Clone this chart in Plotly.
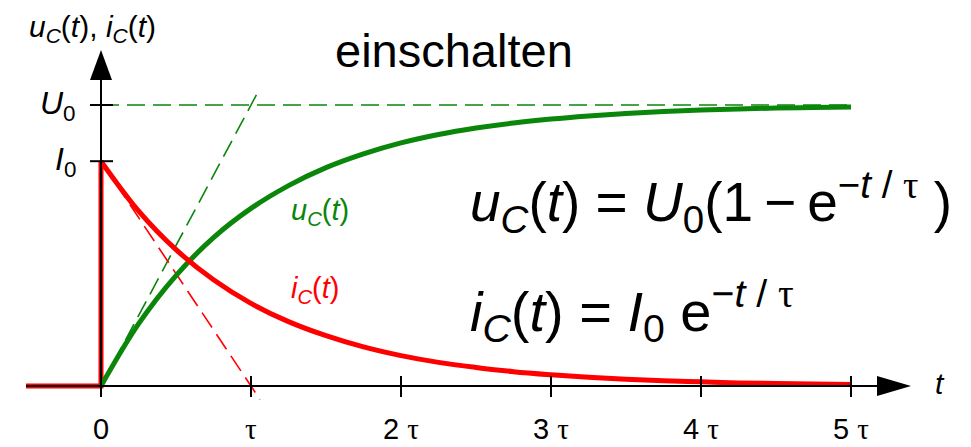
import plotly.graph_objects as go

# Time axis in units of tau, sampled every tau/4
t_vals = [0, 0.25, 0.5, 0.75, 1.0, 1.25, 1.5, 1.75, 2.0, 2.25, 2.5,
          2.75, 3.0, 3.25, 3.5, 3.75, 4.0, 4.25, 4.5, 4.75, 5.0]
# Capacitor voltage (in units of U0)
u_vals = [0.0, 0.221, 0.393, 0.528, 0.632, 0.713, 0.777, 0.826, 0.865, 0.895, 0.918,
          0.936, 0.950, 0.961, 0.970, 0.977, 0.982, 0.986, 0.989, 0.991, 0.993]
# Capacitor current (same vertical scale, I0 = 0.8)
i_vals = [0.8, 0.623, 0.485, 0.378, 0.294, 0.229, 0.179, 0.139, 0.108, 0.084, 0.066,
          0.051, 0.040, 0.031, 0.024, 0.019, 0.015, 0.011, 0.009, 0.007, 0.005]
# Current before switching on
t_off = [-0.5, 0, 0]
i_off = [0, 0, 0.8]

U0 = 1.0
I0 = 0.8
tangent_t = [0, 1.06]
u_tangent = [0, 1.06]
i_tangent = [0.8, -0.048]

x_ticks = [0, 1, 2, 3, 4, 5]
x_tick_labels = ["0", "τ", "2 τ", "3 τ", "4 τ", "5 τ"]
y_ticks = [U0, I0]
y_tick_labels = ["<i>U</i><sub>0</sub>", "<i>I</i><sub>0</sub>"]

W, H = 971, 447
X0PX, PX_PER_T = 101, 150
Y0PX, PX_PER_V = 386, 281


def tx(px):
    return (px - X0PX) / PX_PER_T


def vy(py):
    return (Y0PX - py) / PX_PER_V


GREEN = "#0a860a"
RED = "#ff0000"
FONT = "Liberation Sans, Arial, sans-serif"
TAU = '<span style="font-family:Liberation Serif">τ</span>'
THIN = "\u2009"

fig = go.Figure()

# dashed helper lines
fig.add_trace(go.Scatter(x=[0, 5], y=[U0, U0], mode="lines",
                         line=dict(color=GREEN, width=1.6, dash="18px,8px"), hoverinfo="skip"))
fig.add_trace(go.Scatter(x=tangent_t, y=u_tangent, mode="lines",
                         line=dict(color=GREEN, width=1.6, dash="18px,8px"), hoverinfo="skip"))
fig.add_trace(go.Scatter(x=tangent_t, y=i_tangent, mode="lines",
                         line=dict(color=RED, width=1.6, dash="18px,8px"), hoverinfo="skip"))

shapes = []
ax_style = dict(color="black", width=2)
# x axis with arrow
shapes.append(dict(type="line", x0=-0.5, y0=0, x1=tx(880), y1=0, line=ax_style))
shapes.append(dict(type="path",
                   path=f"M {tx(877)},{vy(Y0PX-10)} L {tx(911)},0 L {tx(877)},{vy(Y0PX+10)} Z",
                   fillcolor="black", line=dict(width=0)))
# y axis with arrow
shapes.append(dict(type="line", x0=0, y0=0, x1=0, y1=vy(78), line=ax_style))
shapes.append(dict(type="path",
                   path=f"M {tx(X0PX-11)},{vy(80)} L 0,{vy(50)} L {tx(X0PX+11)},{vy(80)} Z",
                   fillcolor="black", line=dict(width=0)))
for xt in x_ticks:
    shapes.append(dict(type="line", x0=xt, x1=xt, y0=vy(376), y1=vy(397), line=ax_style))
for yt in y_ticks:
    shapes.append(dict(type="line", x0=tx(90), x1=tx(113), y0=yt, y1=yt, line=ax_style))

# main curves
fig.add_trace(go.Scatter(x=t_off, y=i_off, mode="lines",
                         line=dict(color=RED, width=5), hoverinfo="skip"))
fig.add_trace(go.Scatter(x=t_vals, y=u_vals, mode="lines", line_shape="spline",
                         line=dict(color=GREEN, width=5), hoverinfo="skip"))
fig.add_trace(go.Scatter(x=t_vals, y=i_vals, mode="lines", line_shape="spline",
                         line=dict(color=RED, width=5), hoverinfo="skip"))

ann = []
for xt, lab in zip(x_ticks, x_tick_labels):
    ann.append(dict(x=xt, y=vy(429), text=lab.replace("τ", TAU), showarrow=False,
                    font=dict(size=29, color="black", family=FONT),
                    xanchor="center", yanchor="middle"))
for yt, lab in zip(y_ticks, y_tick_labels):
    ann.append(dict(x=tx(78), y=yt, text=lab, showarrow=False,
                    font=dict(size=32, color="black", family=FONT),
                    xanchor="right", yanchor="middle"))
ann.append(dict(x=tx(940), y=vy(383), text="<i>t</i>", showarrow=False,
                font=dict(size=30, color="black", family=FONT), xanchor="center", yanchor="middle"))
ann.append(dict(x=tx(92), y=vy(28),
                text="<i>u</i><sub><i>C</i></sub>(<i>t</i>), <i>i</i><sub><i>C</i></sub>(<i>t</i>)",
                showarrow=False, font=dict(size=30, color="black", family=FONT),
                xanchor="center", yanchor="middle"))
ann.append(dict(x=tx(454), y=vy(50), text="einschalten", showarrow=False,
                font=dict(size=47, color="black", family=FONT), xanchor="center", yanchor="middle"))
ann.append(dict(x=tx(320), y=vy(212),
                text="<i>u</i><sub><i>C</i></sub>(<i>t</i>)", showarrow=False,
                font=dict(size=29, color=GREEN, family=FONT), xanchor="center", yanchor="middle"))
ann.append(dict(x=tx(315), y=vy(290),
                text="<i>i</i><sub><i>C</i></sub>(<i>t</i>)", showarrow=False,
                font=dict(size=29, color=RED, family=FONT), xanchor="center", yanchor="middle"))
ann.append(dict(x=tx(468), y=vy(202),
                text="<i>u</i><sub><i>C</i></sub>(<i>t</i>) = <i>U</i><sub>0</sub>(1" + THIN + "−"
                     + THIN + "e<sup>−<i>t</i> / " + TAU + "</sup> )",
                showarrow=False, font=dict(size=55, color="black", family=FONT),
                xanchor="left", yanchor="middle"))
ann.append(dict(x=tx(468), y=vy(311),
                text="<i>i</i><sub><i>C</i></sub>(<i>t</i>) = <i>I</i><sub>0</sub> e<sup>−<i>t</i> / "
                     + TAU + "</sup>",
                showarrow=False, font=dict(size=56, color="black", family=FONT),
                xanchor="left", yanchor="middle"))

fig.update_layout(
    width=W, height=H, margin=dict(l=0, r=0, t=0, b=0),
    paper_bgcolor="white", plot_bgcolor="white", showlegend=False,
    xaxis=dict(range=[tx(0), tx(W)], visible=False, fixedrange=True),
    yaxis=dict(range=[vy(H), vy(0)], visible=False, fixedrange=True),
    shapes=shapes, annotations=ann,
)

fig.write_html("out.html")
